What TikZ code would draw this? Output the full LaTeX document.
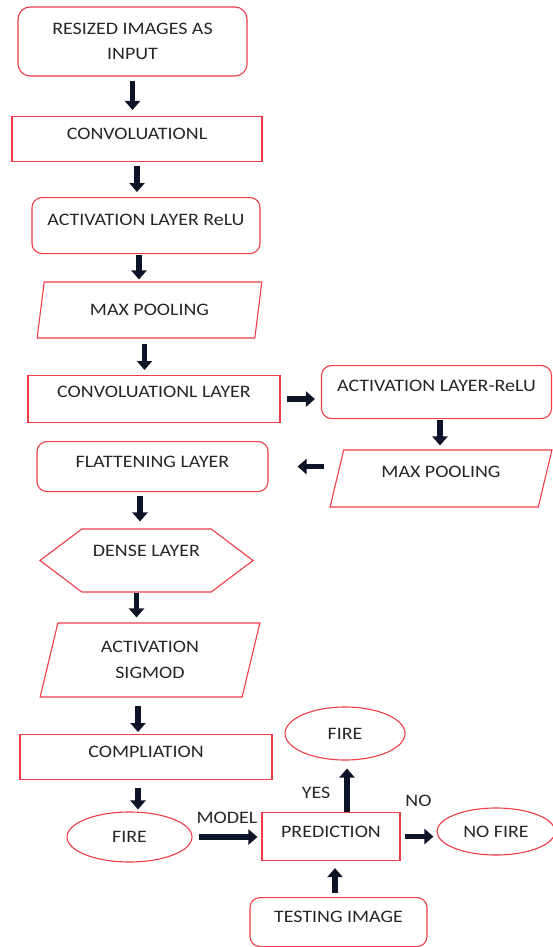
\documentclass[tikz,border=0pt]{standalone}
\usepackage{fontspec}
\setmainfont{Carlito}[FakeStretch=1.14]
\usetikzlibrary{arrows.meta,shapes.geometric,shapes.symbols}
\definecolor{boxred}{RGB}{240,60,70}
\definecolor{arrink}{RGB}{14,20,40}
\tikzset{
  font=\fontsize{17.5pt}{25.5pt}\selectfont,
  box/.style   ={draw=boxred, line width=1.1pt, text=black!85, align=center},
  rbox/.style  ={box, rounded corners=10pt},
  para/.style  ={box, trapezium, trapezium left angle=77, trapezium right angle=103, trapezium stretches=true},
  hexa/.style  ={box, signal, signal to=west and east, signal pointer angle=74},
  oval/.style  ={box, ellipse},
  tb/.style 2 args={inner ysep=0pt, text height=#1, text depth=#2},
  arr/.style   ={-{Triangle[length=9pt,width=15pt]}, line width=5.5pt, arrink},
  lbl/.style   ={text=black!85, inner sep=2pt},
}

\begin{document}
\begin{tikzpicture}[x=1pt, y=1pt]
  \useasboundingbox (0,0) rectangle (552,-947);

  % main column
  \node[rbox, rounded corners=12pt, minimum width=229pt, minimum height=69pt] (resized) at (132.5,-41.5) {RESIZED IMAGES AS\\INPUT};
  \node[box, anchor=north, minimum width=250pt, tb={22.5pt}{22.5pt}] (conv1) at (137,-116) {CONVOLUATIONL};
  \node[rbox, anchor=north, minimum width=228pt, tb={27.5pt}{28.5pt}] (act1) at (146,-197) {ACTIVATION LAYER ReLU};
  \node[para, minimum width=225pt, minimum height=56pt] (pool1) at (149.5,-310) {MAX POOLING};
  \node[box, anchor=north, minimum width=252pt, tb={21.5pt}{25.5pt}] (conv2) at (154,-375) {CONVOLUATIONL LAYER};
  \node[rbox, anchor=north, minimum width=230pt, tb={25.5pt}{27.5pt}] (act2) at (436.5,-365) {ACTIVATION LAYER-ReLU};
  \node[para, minimum width=222pt, minimum height=57pt, tb={18pt}{20pt}] (pool2) at (441,-478.5) {MAX POOLING};
  \node[rbox, anchor=north, minimum width=231pt, tb={25.5pt}{24.5pt}] (flat) at (152.5,-441) {FLATTENING LAYER};
  \node[hexa, minimum width=213pt, minimum height=63pt, tb={14pt}{22pt}] (dense) at (146.5,-560.5) {DENSE LAYER};
  \node[para, minimum width=220pt, minimum height=74pt] (sigmod) at (150,-660) {ACTIVATION\\SIGMOD};
  \node[box, anchor=north, minimum width=252pt, tb={22.5pt}{22.5pt}] (comp) at (146,-734) {COMPLIATION};

  % prediction part
  \node[oval, minimum width=125pt, minimum height=50pt] (fire1) at (129.5,-837) {FIRE};
  \node[box, anchor=north, minimum width=138pt, tb={24.5pt}{23.5pt}] (pred) at (331,-812) {PREDICTION};
  \node[oval, minimum width=120pt, minimum height=53pt] (fire2) at (345,-733.5) {FIRE};
  \node[oval, minimum width=118pt, minimum height=47pt] (nofire) at (496,-831.5) {NO FIRE};
  \node[rbox, anchor=north, minimum width=177pt, tb={24.5pt}{24.5pt}] (test) at (338.5,-897) {TESTING IMAGE};

  % arrows
  \draw[arr, shorten <=4pt, shorten >=6pt] (resized.south) -- (resized.south |- conv1.north);
  \draw[arr, shorten <=4pt, shorten >=5pt] (conv1.south) -- (conv1.south |- act1.north);
  \draw[arr, shorten <=1pt, shorten >=2pt] ([xshift=-7pt]act1.south) -- ([xshift=-7pt]act1.south |- pool1.north);
  \draw[arr, shorten <=5pt, shorten >=5pt] ([xshift=-5pt]pool1.south) -- ([xshift=-5pt]pool1.south |- conv2.north);
  \draw[arr, shorten <=6pt, shorten >=6pt] (conv2.east) -- (conv2.east -| act2.west);
  \draw[arr, shorten <=1pt, shorten >=4pt] ([xshift=3.5pt]act2.south) -- ([xshift=3.5pt]act2.south |- pool2.north);
  \draw[arr, shorten <=12pt, shorten >=29pt] (flat.east -| pool2.west) -- (flat.east);
  \draw[arr, shorten <=4pt, shorten >=7pt] ([xshift=-12.5pt]flat.south) -- ([xshift=-12.5pt]flat.south |- dense.north);
  \draw[arr, shorten <=0pt, shorten >=5pt] ([xshift=-10pt]dense.south) -- ([xshift=-10pt]dense.south |- sigmod.north);
  \draw[arr, shorten <=8pt, shorten >=2pt] ([xshift=-12pt]sigmod.south) -- ([xshift=-12pt]sigmod.south |- comp.north);
  \draw[arr, shorten <=8pt, shorten >=2pt] ([xshift=-8pt]comp.south) -- ([xshift=-8pt]comp.south |- fire1.north);
  \draw[arr, shorten <=6pt, shorten >=4pt] (fire1.east) -- node[lbl, above=9pt]{MODEL} (fire1.east -| pred.west);
  \draw[arr, shorten >=8pt] ([xshift=16pt]pred.north) -- node[lbl, left=12pt, yshift=-7pt]{YES} ([xshift=16pt]pred.north |- fire2.south);
  \draw[arr, shorten <=4pt, shorten >=3pt] (pred.east) -- node[lbl, above=25pt]{NO} (pred.east -| nofire.west);
  \draw[arr, shorten <=4pt, shorten >=7pt] ([xshift=-3.5pt]test.north) -- ([xshift=-3.5pt]test.north |- pred.south);
\end{tikzpicture}
\end{document}
